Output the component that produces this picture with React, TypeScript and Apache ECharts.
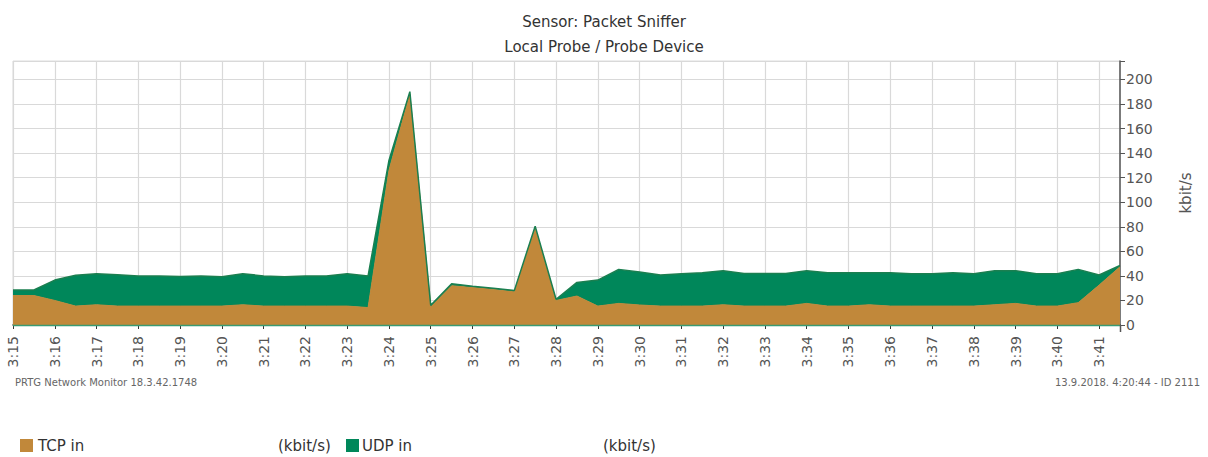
import React, { useEffect, useRef } from "react";
import * as echarts from "echarts";

const times = [
  "3:15:00", "3:15:30", "3:16:00", "3:16:30", "3:17:00", "3:17:30", "3:18:00", "3:18:30", "3:19:00", "3:19:30",
  "3:20:00", "3:20:30", "3:21:00", "3:21:30", "3:22:00", "3:22:30", "3:23:00", "3:23:30", "3:24:00", "3:24:30",
  "3:25:00", "3:25:30", "3:26:00", "3:26:30", "3:27:00", "3:27:30", "3:28:00", "3:28:30", "3:29:00", "3:29:30",
  "3:30:00", "3:30:30", "3:31:00", "3:31:30", "3:32:00", "3:32:30", "3:33:00", "3:33:30", "3:34:00", "3:34:30",
  "3:35:00", "3:35:30", "3:36:00", "3:36:30", "3:37:00", "3:37:30", "3:38:00", "3:38:30", "3:39:00", "3:39:30",
  "3:40:00", "3:40:30", "3:41:00", "3:41:30",
];

const tcpIn = [
  24, 24, 20, 15.4, 16.5, 15.4, 15.4, 15.4, 15.4, 15.4,
  15.4, 16.5, 15.4, 15.4, 15.4, 15.4, 15.4, 14.2, 126, 188,
  15, 32, 30.5, 29, 27, 79, 20, 23.6, 15.4, 17.6,
  16.3, 15.4, 15.4, 15.4, 16.5, 15.4, 15.4, 15.4, 17.6, 15.4,
  15.4, 16.5, 15.4, 15.4, 15.4, 15.4, 15.4, 16.5, 17.6, 15.4,
  15.4, 18.2, 32.5, 47.5,
];

const udpIn = [
  4.5, 4.5, 16.6, 25.2, 25.2, 25.6, 24.6, 24.6, 24, 24.6,
  23.9, 25.2, 24.6, 23.9, 24.6, 24.6, 26.3, 25.8, 8, 2,
  1, 1.5, 1, 1, 1, 1.5, 1, 11.1, 21.2, 27.7,
  26.8, 25.3, 26.3, 27.1, 27.7, 26.6, 26.6, 26.6, 26.6, 27.1,
  27.1, 26, 27.1, 26.3, 26.3, 27.1, 26.3, 27.7, 26.6, 26.3,
  26.3, 27.1, 8.2, 1,
];

const yTicks = [0, 20, 40, 60, 80, 100, 120, 140, 160, 180, 200];

const TCP_COLOR = "#C1883A";
const UDP_COLOR = "#00875A";
const FONT = "DejaVu Sans";

export default function App() {
  const ref = useRef<HTMLDivElement>(null);

  useEffect(() => {
    document.body.style.margin = "0";
    const chart = echarts.init(ref.current!, null, { renderer: "svg" });
    chart.setOption({
      animation: false,
      backgroundColor: "#fff",
      textStyle: { fontFamily: FONT },
      title: [
        {
          text: "Sensor: Packet Sniffer",
          left: "center",
          top: 9,
          textStyle: { fontSize: 15, fontWeight: "normal", color: "#333", fontFamily: FONT },
        },
        {
          text: "Local Probe / Probe Device",
          left: "center",
          top: 34,
          textStyle: { fontSize: 15, fontWeight: "normal", color: "#333", fontFamily: FONT },
        },
      ],
      grid: {
        left: 13,
        right: 88,
        top: 61,
        bottom: 132,
        show: true,
        borderColor: "#dcdcdc",
        borderWidth: 1,
      },
      xAxis: {
        type: "category",
        data: times,
        boundaryGap: false,
        offset: 6,
        axisLine: { lineStyle: { color: "#333", width: 1.5 } },
        axisTick: { interval: 1, length: 4, lineStyle: { color: "#333" } },
        axisLabel: {
          interval: 1,
          rotate: 90,
          margin: 5,
          fontSize: 14,
          color: "#555",
          fontFamily: FONT,
          formatter: (v: string) => v.slice(0, v.lastIndexOf(":")),
        },
        splitLine: { show: true, interval: 1, lineStyle: { color: "#d9d9d9", width: 1.2 } },
      },
      yAxis: {
        type: "value",
        position: "right",
        min: 0,
        max: 215,
        interval: 20,
        name: "kbit/s",
        nameLocation: "middle",
        nameRotate: 90,
        nameGap: 58,
        nameTextStyle: { fontSize: 15, color: "#555", fontFamily: FONT },
        axisLine: { show: true, lineStyle: { color: "#555", width: 1.5 } },
        axisTick: { show: true, length: 5, lineStyle: { color: "#555" } },
        axisLabel: {
          fontSize: 14,
          color: "#555",
          margin: 6,
          fontFamily: FONT,
          formatter: (v: number) => (yTicks.indexOf(v) >= 0 ? String(v) : ""),
        },
        splitLine: { show: true, lineStyle: { color: "#d9d9d9", width: 1.2 } },
      },
      series: [
        {
          name: "TCP in",
          type: "line",
          stack: "total",
          data: tcpIn,
          symbol: "none",
          lineStyle: { color: TCP_COLOR, width: 1 },
          areaStyle: { color: TCP_COLOR, opacity: 1 },
          itemStyle: { color: TCP_COLOR },
        },
        {
          name: "UDP in",
          type: "line",
          stack: "total",
          data: udpIn,
          symbol: "none",
          lineStyle: { color: "#1B7F50", width: 1.5 },
          areaStyle: { color: UDP_COLOR, opacity: 1 },
          itemStyle: { color: UDP_COLOR },
        },
      ],
      graphic: [
        {
          type: "line",
          shape: { x1: 13, y1: 325.5, x2: 1120, y2: 325.5 },
          style: { stroke: "#3a9a72", lineWidth: 1.5 },
          z: 10,
        },
        {
          type: "line",
          shape: { x1: 1120.5, y1: 325, x2: 1120.5, y2: 332 },
          style: { stroke: "#555", lineWidth: 1.5 },
          z: 10,
        },
        {
          type: "text",
          left: 15,
          top: 377,
          style: { text: "PRTG Network Monitor 18.3.42.1748", fontSize: 10, fill: "#666", fontFamily: FONT },
        },
        {
          type: "text",
          right: 8,
          top: 377,
          style: { text: "13.9.2018. 4:20:44 - ID 2111", fontSize: 10, fill: "#666", fontFamily: FONT },
        },
        { type: "rect", shape: { x: 20, y: 439, width: 13, height: 13 }, style: { fill: TCP_COLOR } },
        {
          type: "text",
          x: 38,
          y: 446,
          style: { text: "TCP in", fontSize: 15, fill: "#333", fontFamily: FONT, verticalAlign: "middle" },
        },
        {
          type: "text",
          x: 278,
          y: 446,
          style: { text: "(kbit/s)", fontSize: 15, fill: "#333", fontFamily: FONT, verticalAlign: "middle" },
        },
        { type: "rect", shape: { x: 346, y: 439, width: 13, height: 13 }, style: { fill: UDP_COLOR } },
        {
          type: "text",
          x: 362,
          y: 446,
          style: { text: "UDP in", fontSize: 15, fill: "#333", fontFamily: FONT, verticalAlign: "middle" },
        },
        {
          type: "text",
          x: 603,
          y: 446,
          style: { text: "(kbit/s)", fontSize: 15, fill: "#333", fontFamily: FONT, verticalAlign: "middle" },
        },
      ],
    });
    return () => chart.dispose();
  }, []);

  return <div ref={ref} style={{ width: 1208, height: 457 }} />;
}
